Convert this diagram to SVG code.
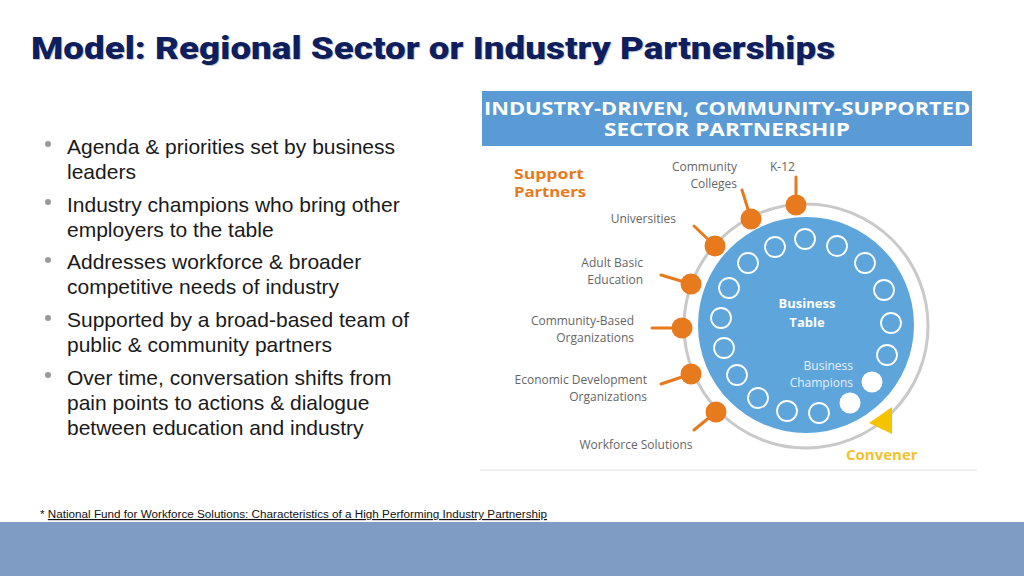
<svg xmlns="http://www.w3.org/2000/svg" width="1024" height="576" viewBox="0 0 1024 576">
<style>
.title{font-family:Roboto,"Liberation Sans",sans-serif;font-weight:900;font-size:32px;fill:#0f1f5e}
.bul{font-family:"Liberation Sans",Arial,sans-serif;font-size:21px;fill:#1a1a1a}
.dot{fill:#9a9a9a}
.hdr{font-family:"Open Sans","Liberation Sans",sans-serif;font-weight:700;font-size:17px;fill:#ffffff}
.lbl{font-family:"Open Sans","Liberation Sans",sans-serif;font-size:12px;fill:#666666}
.sp{font-family:"Open Sans","Liberation Sans",sans-serif;font-weight:700;font-size:15px;fill:#e87a1e}
.pd{fill:#e87a1e}
.stub{stroke:#e87a1e;stroke-width:3;stroke-linecap:round}
.seat{fill:none;stroke:#ffffff;stroke-width:1.8}
.champ{fill:#ffffff}
.bt{font-family:"Open Sans","Liberation Sans",sans-serif;font-weight:700;font-size:13px;fill:#ffffff}
.bc{font-family:"Open Sans","Liberation Sans",sans-serif;font-size:12px;fill:#e6f0fa}
.conv{font-family:"Open Sans","Liberation Sans",sans-serif;font-weight:700;font-size:15px;fill:#f2c12e}
.foot{font-family:"Liberation Sans",Arial,sans-serif;font-size:11.7px;fill:#111111}
</style>
<rect width="1024" height="576" fill="#ffffff"/>
<g id="title">
<text class="title" x="31" y="59" textLength="804" lengthAdjust="spacingAndGlyphs" transform="translate(1,1)" style="fill:#9aa0b0;fill-opacity:0.5">Model: Regional Sector or Industry Partnerships</text>
<text class="title" x="31" y="59" textLength="804" lengthAdjust="spacingAndGlyphs">Model: Regional Sector or Industry Partnerships</text>
</g>
<g id="bullets">
<circle class="dot" cx="48" cy="144" r="3"/>
<circle class="dot" cx="48" cy="202" r="3"/>
<circle class="dot" cx="48" cy="260" r="3"/>
<circle class="dot" cx="48" cy="318" r="3"/>
<circle class="dot" cx="48" cy="375" r="3"/>
<text class="bul" x="67" y="154">Agenda &amp; priorities set by business</text>
<text class="bul" x="67" y="179">leaders</text>
<text class="bul" x="67" y="212">Industry champions who bring other</text>
<text class="bul" x="67" y="237">employers to the table</text>
<text class="bul" x="67" y="269">Addresses workforce &amp; broader</text>
<text class="bul" x="67" y="294">competitive needs of industry</text>
<text class="bul" x="67" y="327">Supported by a broad-based team of</text>
<text class="bul" x="67" y="352">public &amp; community partners</text>
<text class="bul" x="67" y="385">Over time, conversation shifts from</text>
<text class="bul" x="67" y="410">pain points to actions &amp; dialogue</text>
<text class="bul" x="67" y="435">between education and industry</text>
</g>
<g id="header">
<rect x="482" y="91" width="490" height="55" fill="#5b9bd5"/>
<text class="hdr" x="727" y="115" text-anchor="middle" textLength="486" lengthAdjust="spacingAndGlyphs">INDUSTRY-DRIVEN, COMMUNITY-SUPPORTED</text>
<text class="hdr" x="727" y="136" text-anchor="middle" textLength="246" lengthAdjust="spacingAndGlyphs">SECTOR PARTNERSHIP</text>
</g>
<g id="support-partners">
<text class="sp" x="514" y="179" textLength="70" lengthAdjust="spacingAndGlyphs">Support</text>
<text class="sp" x="514" y="197" textLength="72" lengthAdjust="spacingAndGlyphs">Partners</text>
</g>
<g id="ring">
<circle cx="806" cy="326" r="122" fill="none" stroke="#c9c9c9" stroke-width="3"/>
</g>
<g id="connectors">
<line class="stub" x1="796" y1="205" x2="796" y2="177"/>
<line class="stub" x1="751" y1="219" x2="742" y2="190"/>
<line class="stub" x1="715" y1="246" x2="694" y2="226"/>
<line class="stub" x1="691" y1="284" x2="661" y2="275"/>
<line class="stub" x1="682" y1="328" x2="652" y2="328"/>
<line class="stub" x1="691" y1="374" x2="661" y2="384"/>
<line class="stub" x1="716" y1="412" x2="694" y2="430"/>
</g>
<g id="k12"><circle class="pd" cx="796" cy="205" r="10.5"/><text class="lbl" x="770" y="171">K-12</text></g>
<g id="community-colleges"><circle class="pd" cx="751" cy="219" r="10.5"/><text class="lbl" x="737" y="171" text-anchor="end">Community</text><text class="lbl" x="737" y="188" text-anchor="end">Colleges</text></g>
<g id="universities"><circle class="pd" cx="715" cy="246" r="10.5"/><text class="lbl" x="676" y="223" text-anchor="end">Universities</text></g>
<g id="adult-basic-education"><circle class="pd" cx="691" cy="284" r="10.5"/><text class="lbl" x="643" y="267" text-anchor="end">Adult Basic</text><text class="lbl" x="643" y="284" text-anchor="end">Education</text></g>
<g id="community-based-orgs"><circle class="pd" cx="682" cy="328" r="10.5"/><text class="lbl" x="634" y="325" text-anchor="end">Community-Based</text><text class="lbl" x="634" y="342" text-anchor="end">Organizations</text></g>
<g id="economic-development-orgs"><circle class="pd" cx="691" cy="374" r="10.5"/><text class="lbl" x="647" y="384" text-anchor="end">Economic Development</text><text class="lbl" x="647" y="401" text-anchor="end">Organizations</text></g>
<g id="workforce-solutions"><circle class="pd" cx="716" cy="412" r="10.5"/><text class="lbl" x="636" y="449" text-anchor="middle">Workforce Solutions</text></g>
<g id="business-table">
<circle cx="806" cy="325" r="108" fill="#5ea5dc"/>
<circle class="seat" cx="805" cy="239" r="10"/>
<circle class="seat" cx="775" cy="247" r="10"/>
<circle class="seat" cx="837" cy="246" r="10"/>
<circle class="seat" cx="748" cy="263" r="10"/>
<circle class="seat" cx="865" cy="263" r="10"/>
<circle class="seat" cx="729" cy="288" r="10"/>
<circle class="seat" cx="884" cy="290" r="10"/>
<circle class="seat" cx="721" cy="318" r="10"/>
<circle class="seat" cx="891" cy="323" r="10"/>
<circle class="seat" cx="724" cy="348" r="10"/>
<circle class="seat" cx="887" cy="355" r="10"/>
<circle class="seat" cx="737" cy="375" r="10"/>
<circle class="seat" cx="758" cy="398" r="10"/>
<circle class="seat" cx="787" cy="411" r="10"/>
<circle class="seat" cx="819" cy="413" r="10"/>
<text class="bt" x="807" y="308" text-anchor="middle">Business</text>
<text class="bt" x="807" y="327" text-anchor="middle">Table</text>
</g>
<g id="business-champions">
<circle class="champ" cx="872" cy="382" r="10.5"/>
<circle class="champ" cx="850" cy="403" r="10.5"/>
<text class="bc" x="853" y="370" text-anchor="end">Business</text>
<text class="bc" x="853" y="387" text-anchor="end">Champions</text>
</g>
<g id="convener">
<polygon points="869,423 892,407 892,434" fill="#f5c400"/>
<text class="conv" x="846" y="460">Convener</text>
</g>
<line x1="480" y1="470" x2="977" y2="470" stroke="#e0e0e0" stroke-width="1"/>
<g id="footer">
<text class="foot" x="40" y="518">* <tspan text-decoration="underline">National Fund for Workforce Solutions: Characteristics of a High Performing Industry Partnership</tspan></text>
<rect x="0" y="522" width="1024" height="54" fill="#7f9cc4"/>
</g>
</svg>
